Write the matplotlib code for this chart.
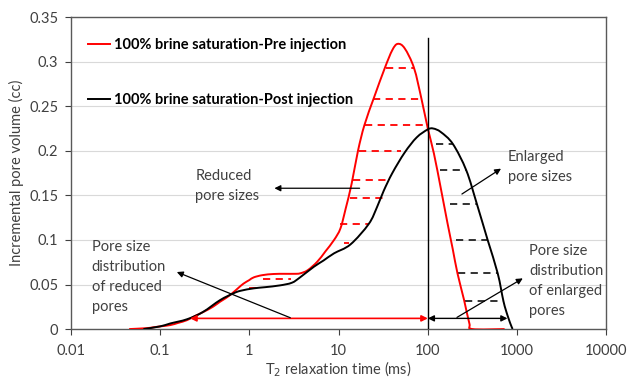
import matplotlib
matplotlib.use("Agg")
import matplotlib.pyplot as plt
import numpy as np
from matplotlib.lines import Line2D
from matplotlib.path import Path
from matplotlib.patches import PathPatch

# --- data ---
pre_t = [0.045, 0.07, 0.084, 0.1, 0.13, 0.16, 0.2, 0.25, 0.31, 0.39, 0.47, 0.55,
         0.64, 0.75, 0.86, 1.0, 1.12, 1.4, 1.87, 2.5, 3.2, 3.7, 4.5, 5.76, 7.1,
         8.9, 10.5, 12.0, 14.0, 16.5, 19.5, 25.0, 33.0, 40.0, 46.0, 55.0, 70.0,
         85.0, 100.0, 117.0, 141.0, 166.0, 190.0, 215.0, 255.0, 292.0, 316.0, 725.0]
pre_v = [0.0, 0.001, 0.002, 0.003, 0.0045, 0.007, 0.010, 0.015, 0.0195, 0.025,
         0.0307, 0.035, 0.040, 0.046, 0.051, 0.055, 0.058, 0.0605, 0.0618, 0.062,
         0.062, 0.0625, 0.066, 0.0755, 0.087, 0.1, 0.113, 0.135, 0.163, 0.2,
         0.229, 0.26, 0.293, 0.313, 0.32, 0.315, 0.293, 0.258, 0.225, 0.197, 0.156,
         0.119, 0.09, 0.0625, 0.0325, 0.0064, 0.0, 0.0]

post_t = [0.065, 0.1, 0.13, 0.2, 0.3, 0.47, 0.66, 0.8, 1.12, 1.5, 2.2, 3.0, 3.7,
          5.3, 6.8, 8.9, 13.6, 21.8, 27.0, 32.0, 40.0, 55.0, 75.0, 100.0, 115.0,
          140.0, 191.0, 270.0, 353.0, 468.0, 607.0, 705.0, 786.0, 873.0, 900.0]
post_v = [0.0, 0.003, 0.0063, 0.011, 0.019, 0.0325, 0.040, 0.043, 0.0457, 0.047,
          0.049, 0.052, 0.058, 0.070, 0.077, 0.085, 0.095, 0.118, 0.137, 0.155,
          0.175, 0.198, 0.215, 0.224, 0.225, 0.221, 0.2076, 0.178, 0.141, 0.1,
          0.0625, 0.031, 0.0146, 0.002, 0.0]

# dashed hatching rows: level, start, end
red_rows_y = [0.293, 0.258, 0.229, 0.200, 0.167, 0.147, 0.1175, 0.097, 0.056, 0.046]
red_rows_x0 = [34.0, 24.5, 20.0, 17.0, 14.5, 13.6, 10.5, 11.5, 1.43, 1.0]
red_rows_x1 = [70.0, 84.0, 96.0, 50.0, 36.0, 31.7, 21.7, 13.0, 2.9, 1.2]
blk_rows_y = [0.2076, 0.178, 0.140, 0.100, 0.063, 0.031]
blk_rows_x0 = [125.0, 138.0, 176.0, 205.0, 218.0, 262.0]
blk_rows_x1 = [191.0, 270.0, 360.0, 460.0, 600.0, 715.0]

xticks = [0.01, 0.1, 1, 10, 100, 1000, 10000]
xticklabels = ["0.01", "0.1", "1", "10", "100", "1000", "10000"]
yticks = [0, 0.05, 0.1, 0.15, 0.2, 0.25, 0.3, 0.35]
yticklabels = ["0", "0.05", "0.1", "0.15", "0.2", "0.25", "0.3", "0.35"]

RED, INK, GREY = "#ff0000", "#000000", "#404040"
FS = 10.5


def smooth_line(ax, xs, ys, **kw):
    """Excel-style smoothed line: Catmull-Rom through the points (log x)."""
    u = np.log10(np.asarray(xs, float))
    v = np.asarray(ys, float)
    p = np.column_stack([u, v])
    pp = np.vstack([p[0], p, p[-1]])
    verts, codes = [p[0]], [Path.MOVETO]
    for i in range(len(p) - 1):
        p0, p1, p2, p3 = pp[i], pp[i + 1], pp[i + 2], pp[i + 3]
        verts += [p1 + (p2 - p0) / 6, p2 - (p3 - p1) / 6, p2]
        codes += [Path.CURVE4] * 3
    verts = np.array(verts)
    verts[:, 0] = 10 ** verts[:, 0]
    ax.add_patch(PathPatch(Path(verts, codes), fill=False, **kw))


plt.rcParams["font.family"] = ["Lato", "DejaVu Sans"]
plt.rcParams["font.size"] = FS

fig = plt.figure(figsize=(6.27, 3.8), dpi=100)
ax = fig.add_axes([0.113, 0.134, 0.854, 0.821])
ax.set_xscale("log")
ax.set_xlim(0.01, 10000)
ax.set_ylim(0, 0.35)

ax.grid(axis="y", color="#d9d9d9", lw=0.8, zorder=0)
for y, a, b in zip(red_rows_y, red_rows_x0, red_rows_x1):
    ax.plot([a, b], [y, y], color=RED, lw=1.3, dashes=(4, 3), zorder=2)
for y, a, b in zip(blk_rows_y, blk_rows_x0, blk_rows_x1):
    ax.plot([a, b], [y, y], color="#222222", lw=1.3, dashes=(4, 3), zorder=2)

smooth_line(ax, pre_t, pre_v, edgecolor=RED, lw=1.4, zorder=3)
smooth_line(ax, post_t, post_v, edgecolor=INK, lw=1.4, zorder=3)
ax.plot([100, 100], [0, 0.326], color=INK, lw=1.0, zorder=3)

# range arrows along the bottom
ax.annotate("", xy=(0.217, 0.012), xytext=(100, 0.012),
            arrowprops=dict(arrowstyle="<|-|>", color=RED, lw=1.2,
                            mutation_scale=9, shrinkA=0, shrinkB=0))
ax.annotate("", xy=(100, 0.012), xytext=(780, 0.012),
            arrowprops=dict(arrowstyle="<|-|>", color=INK, lw=1.0,
                            mutation_scale=9, shrinkA=0, shrinkB=0))

# callouts
arr = dict(arrowstyle="-|>", color=INK, lw=0.9, mutation_scale=9, shrinkA=0, shrinkB=0)
ax.annotate("", xy=(1.91, 0.158), xytext=(17.2, 0.158), arrowprops=arr)
ax.annotate("", xy=(0.154, 0.064), xytext=(2.88, 0.0127), arrowprops=arr)
ax.annotate("", xy=(661, 0.180), xytext=(241, 0.1515), arrowprops=arr)
ax.annotate("", xy=(1159, 0.0569), xytext=(212, 0.0131), arrowprops=arr)

txt = dict(color=GREY, va="center", ha="left", linespacing=1.55)
ax.text(0.247, 0.161, "Reduced\npore sizes", **txt)
ax.text(0.0171, 0.0584, "Pore size\ndistribution\nof reduced\npores", **txt)
ax.text(787, 0.182, "Enlarged\npore sizes", **txt)
ax.text(1374, 0.0542, "Pore size\ndistribution\nof enlarged\npores", **txt)

handles = [Line2D([], [], color=RED, lw=1.4), Line2D([], [], color=INK, lw=1.4)]
labels = ["100% brine saturation-Pre injection", "100% brine saturation-Post injection"]
ax.legend(handles, labels, loc="upper left", bbox_to_anchor=(0.032, 0.933),
          frameon=False, borderpad=0, borderaxespad=0, labelspacing=2.8,
          handlelength=1.5, handletextpad=0.25,
          prop={"weight": "bold", "size": FS})

ax.set_xticks(xticks)
ax.set_xticklabels(xticklabels)
ax.set_yticks(yticks)
ax.set_yticklabels(yticklabels)
ax.minorticks_off()
ax.tick_params(colors=GREY, labelcolor=GREY, length=4, width=0.8)
ax.tick_params(axis="x", pad=7)
ax.tick_params(axis="y", pad=5)
for s in ax.spines.values():
    s.set_color("#595959")
    s.set_linewidth(1.0)

ax.set_xlabel("T$_2$ relaxation time (ms)", color=GREY, labelpad=1)
ax.set_ylabel("Incremental pore volume (cc)", color=GREY, labelpad=4)

fig.savefig("out.png", dpi=100)
